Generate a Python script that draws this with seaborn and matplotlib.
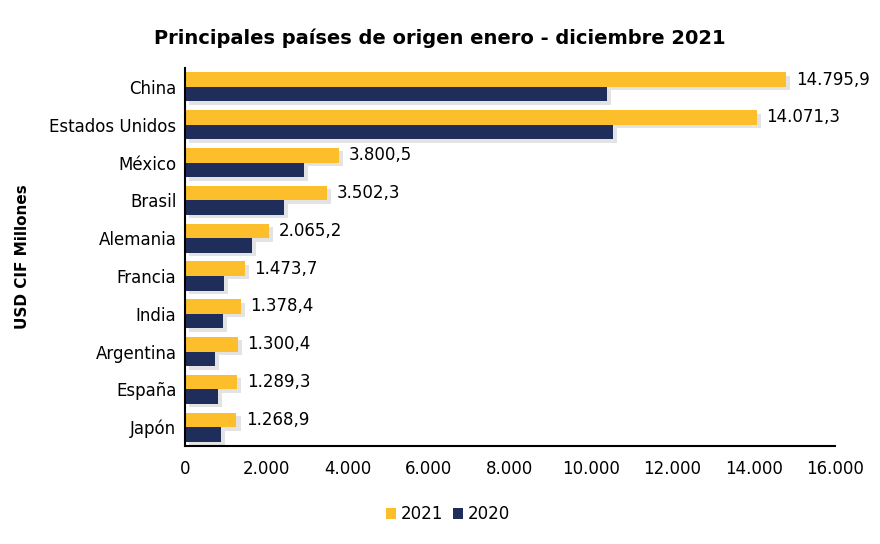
import pandas as pd
import matplotlib.pyplot as plt
import matplotlib.patheffects as pe
import seaborn as sns

countries = ["China", "Estados Unidos", "México", "Brasil", "Alemania",
             "Francia", "India", "Argentina", "España", "Japón"]
values_2021 = [14795.9, 14071.3, 3800.5, 3502.3, 2065.2,
               1473.7, 1378.4, 1300.4, 1289.3, 1268.9]
values_2020 = [10390, 10540, 2930, 2440, 1650,
               960, 935, 740, 810, 885]
years = ["2021", "2020"]
x_ticks = [0, 2000, 4000, 6000, 8000, 10000, 12000, 14000, 16000]


def fmt_es(v, decimals=0):
    s = f"{v:,.{decimals}f}"
    return s.replace(",", "X").replace(".", ",").replace("X", ".")


df = pd.concat([
    pd.DataFrame({"pais": countries, "valor": values_2021, "anio": years[0]}),
    pd.DataFrame({"pais": countries, "valor": values_2020, "anio": years[1]}),
])

sns.set_theme(style="white")
plt.rcParams["font.family"] = ["DejaVu Sans"]
plt.rcParams["text.color"] = "black"
plt.rcParams["xtick.color"] = "black"
plt.rcParams["ytick.color"] = "black"
plt.rcParams["axes.labelcolor"] = "black"

fig = plt.figure(figsize=(8.8, 5.44), dpi=100)
ax = fig.add_axes([0.21, 0.18, 0.739, 0.695])

palette = {"2021": "#FDBE2C", "2020": "#1F2D5B"}
sns.barplot(data=df, x="valor", y="pais", hue="anio", palette=palette,
            orient="h", width=0.77, ax=ax, saturation=1, legend=True,
            edgecolor="none", linewidth=0)

# soft drop shadow like the original
shadow = [pe.SimplePatchShadow(offset=(3, -2.5), shadow_rgbFace="#b0b0b0", alpha=0.35),
          pe.Normal()]
for p in ax.patches:
    p.set_path_effects(shadow)

# labels on the 2021 bars only
bars_2021 = ax.containers[0]
ax.bar_label(bars_2021, labels=[fmt_es(v, 1) for v in values_2021],
             padding=7, fontsize=12, color="black")

ax.set_xlim(0, 16000)
ax.set_xticks(x_ticks)
ax.set_xticklabels([fmt_es(t) for t in x_ticks], fontsize=12)
ax.tick_params(axis="x", pad=10, length=0)
ax.tick_params(axis="y", labelsize=12, length=0, pad=6)
ax.set_xlabel("")
ax.set_ylabel("USD CIF Millones", fontsize=11, fontweight="bold", labelpad=14)

for side in ["top", "right"]:
    ax.spines[side].set_visible(False)
for side in ["left", "bottom"]:
    ax.spines[side].set_color("black")
    ax.spines[side].set_linewidth(1.5)

fig.suptitle("Principales países de origen enero - diciembre 2021",
             x=0.5, y=0.948, fontsize=14, fontweight="bold", color="black")

handles, labels = ax.get_legend_handles_labels()
leg = ax.legend(handles, labels, loc="upper center", bbox_to_anchor=(0.405, -0.117),
                ncol=2, frameon=False, fontsize=12, handlelength=0.6, handleheight=0.6,
                handletextpad=0.3, columnspacing=0.6)
for h in leg.legend_handles:
    h.set_path_effects([])

fig.savefig("out.png", dpi=100)
